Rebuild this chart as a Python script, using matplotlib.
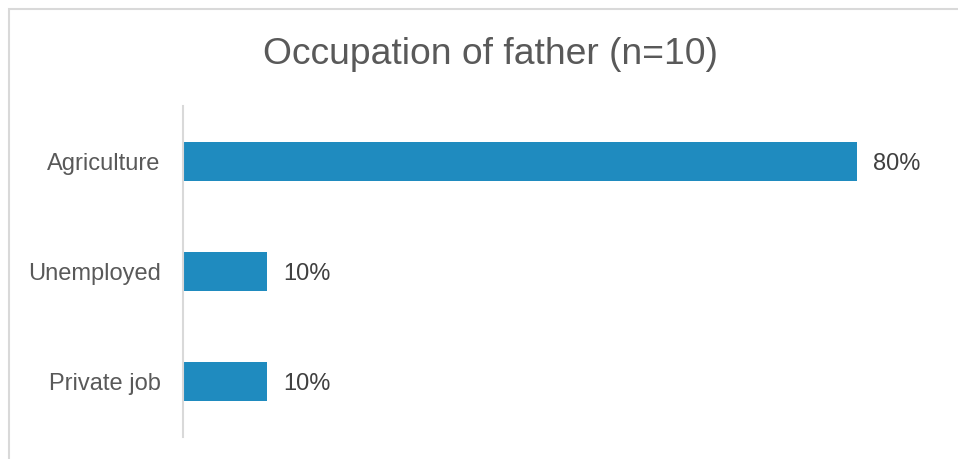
import matplotlib.pyplot as plt
from matplotlib.patches import Rectangle

plt.rcParams['font.family'] = ['Liberation Sans', 'DejaVu Sans']

categories = ['Agriculture', 'Unemployed', 'Private job']
percent = [80, 10, 10]

W, H = 958, 459
fig = plt.figure(figsize=(W / 100, H / 100), dpi=100)

# chart border (right and bottom edges fall outside the image)
fig.patches.append(Rectangle((9 / W, -0.1), 1.2, 1 - 9 / H + 0.1,
                             transform=fig.transFigure, fill=False,
                             edgecolor='#D9D9D9', linewidth=1.5))

# plot area: x=183..941 px, y=106..437 px
ax = fig.add_axes([183 / W, 1 - 437 / H, 758 / W, 331 / H])
ypos = range(len(categories))
ax.barh(ypos, percent, height=0.355, color='#1F8BBF')
ax.set_xlim(0, 90)
ax.set_ylim(len(categories) - 0.5, -0.5)
ax.set_yticks(list(ypos))
ax.set_yticklabels(categories, fontsize=17, color='#595959')
ax.tick_params(axis='y', length=0, pad=16)
ax.set_xticks([])
for s in ['top', 'right', 'bottom']:
    ax.spines[s].set_visible(False)
ax.spines['left'].set_color('#D9D9D9')
ax.spines['left'].set_linewidth(1.5)

for y, v in zip(ypos, percent):
    ax.text(v + 1.9, y, f'{v}%', va='center_baseline', ha='left', fontsize=17, color='#404040')

fig.text(490 / W, 1 - 54 / H, 'Occupation of father (n=10)', ha='center', va='center',
         fontsize=26.8, color='#595959')

fig.savefig('out.png', dpi=100)
